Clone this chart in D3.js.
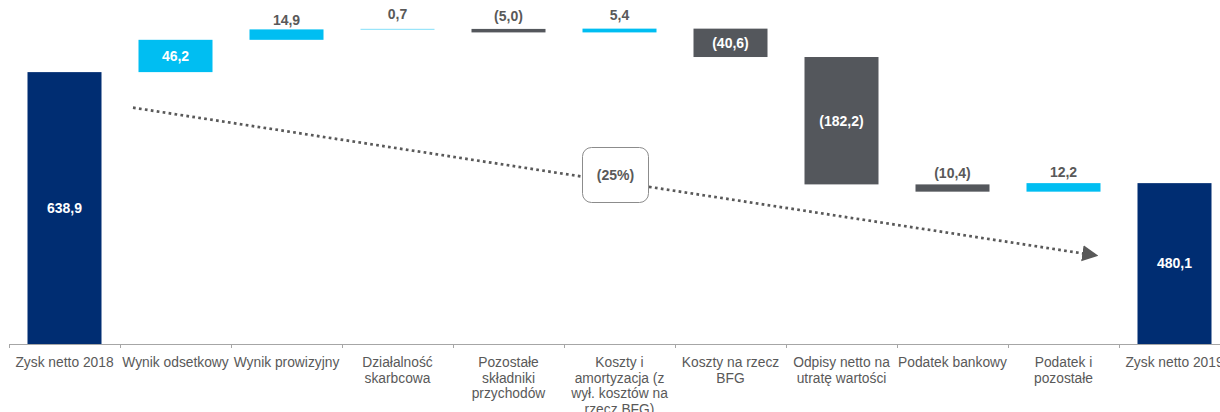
<!DOCTYPE html>
<html>
<head>
<meta charset="utf-8">
<script src="https://cdn.jsdelivr.net/npm/d3@7"></script>
<style>
  html, body { margin: 0; padding: 0; background: #fff; }
  svg { display: block; font-family: "Liberation Sans", Arial, sans-serif; }
</style>
</head>
<body>
<svg id="chart" width="1220" height="412"></svg>
<script>
// Category labels, already broken into lines
const categories = [
  ["Zysk netto 2018"],
  ["Wynik odsetkowy"],
  ["Wynik prowizyjny"],
  ["Działalność", "skarbcowa"],
  ["Pozostałe", "składniki", "przychodów"],
  ["Koszty i", "amortyzacja (z", "wył. kosztów na", "rzecz BFG)"],
  ["Koszty na rzecz", "BFG"],
  ["Odpisy netto na", "utratę wartości"],
  ["Podatek bankowy"],
  ["Podatek i", "pozostałe"],
  ["Zysk netto 2019"]
];
// Bar values (mln zł): totals at both ends, changes in between
const values = [638.9, 46.2, 14.9, 0.7, -5.0, 5.4, -40.6, -182.2, -10.4, 12.2, 480.1];
const kinds  = ["total", "delta", "delta", "delta", "delta", "delta", "delta", "delta", "delta", "delta", "total"];
const trendLabel = "(25%)";

const colors = { total: "#002D72", up: "#00BEF2", down: "#54575C" };
const textGray = "#595959";

const svg = d3.select("#chart");
const keys = categories.map((c, i) => i);

const x = d3.scaleBand()
  .domain(keys)
  .range([9, 9 + 111 * categories.length])
  .paddingInner(1 / 3)
  .paddingOuter(1 / 6);

const y = d3.scaleLinear().domain([250, 700]).range([344, 29.4]);

// Running totals for the floating bars
let running = 0;
const bars = values.map((v, i) => {
  let lo, hi;
  if (kinds[i] === "total") { lo = y.domain()[0]; hi = v; running = v; }
  else { const start = running; running += v; lo = Math.min(start, running); hi = Math.max(start, running); }
  const fill = kinds[i] === "total" ? colors.total : (v >= 0 ? colors.up : colors.down);
  return { i, v, lo, hi, fill, kind: kinds[i] };
});

const fmt = v => {
  const s = d3.format(".1f")(Math.abs(v)).replace(".", ",");
  return v < 0 ? "(" + s + ")" : s;
};

// Bars
svg.append("g").selectAll("rect").data(bars).join("rect")
  .attr("x", d => x(d.i))
  .attr("width", x.bandwidth())
  .attr("y", d => y(d.hi))
  .attr("height", d => y(d.lo) - y(d.hi))
  .attr("fill", d => d.fill);

// Value labels: inside tall bars, above short ones
svg.append("g").selectAll("text").data(bars).join("text")
  .attr("x", d => x(d.i) + x.bandwidth() / 2)
  .attr("y", d => {
    const mid = (y(d.lo) + y(d.hi)) / 2;
    const h = y(d.lo) - y(d.hi);
    return h > 20 ? mid : mid - 15;
  })
  .attr("dy", "0.35em")
  .attr("text-anchor", "middle")
  .attr("font-size", 14)
  .attr("font-weight", "bold")
  .attr("fill", d => (y(d.lo) - y(d.hi)) > 20 ? "#fff" : textGray)
  .text(d => fmt(d.v));

// Category axis
const axisG = svg.append("g");
const step = x.step();
const pad = step * x.paddingInner() / 2;
axisG.append("line")
  .attr("x1", x(0) - pad).attr("x2", x(keys.length - 1) + x.bandwidth() + pad)
  .attr("y1", 344.5).attr("y2", 344.5)
  .attr("stroke", "#A6A6A6").attr("stroke-width", 1);
axisG.selectAll("line.tick").data(keys).join("line")
  .attr("class", "tick")
  .attr("x1", d => Math.round(x(d) - pad) + 0.5)
  .attr("x2", d => Math.round(x(d) - pad) + 0.5)
  .attr("y1", 344).attr("y2", 348)
  .attr("stroke", "#A6A6A6");

const labels = axisG.selectAll("text").data(keys).join("text")
  .attr("text-anchor", "middle")
  .attr("font-size", 13.8)
  .attr("fill", textGray);
labels.each(function (d) {
  d3.select(this).selectAll("tspan").data(categories[d]).join("tspan")
    .attr("x", x(d) + x.bandwidth() / 2)
    .attr("y", (t, j) => 367 + j * 15.5)
    .text(t => t);
});

// Dotted trend arrow with percentage badge
const ax1 = x(1) - pad + 13, ay1 = y(588);
const ax2 = x(10) - pad - 20, ay2 = y(376);
const defs = svg.append("defs");
defs.append("marker")
  .attr("id", "arrowHead")
  .attr("viewBox", "0 0 10 10")
  .attr("refX", 1).attr("refY", 5)
  .attr("markerWidth", 6).attr("markerHeight", 6.2)
  .attr("markerUnits", "strokeWidth")
  .attr("orient", "auto")
  .append("path").attr("d", "M0,0 L10,5 L0,10 Z").attr("fill", "#595959");

svg.append("line")
  .attr("x1", ax1).attr("y1", ay1)
  .attr("x2", ax2 - 15).attr("y2", ay2 - 15 * (ay2 - ay1) / (ax2 - ax1))
  .attr("stroke", "#595959")
  .attr("stroke-width", 2.7)
  .attr("stroke-dasharray", "2.7,3.3")
  .attr("marker-end", "url(#arrowHead)");

const bx = (ax1 + ax2) / 2 - 0.5, by = 175;
const badge = svg.append("g").attr("transform", `translate(${bx},${by})`);
badge.append("rect")
  .attr("x", -33).attr("y", -27.5).attr("width", 66).attr("height", 55)
  .attr("rx", 9).attr("ry", 9)
  .attr("fill", "#fff").attr("stroke", "#8C8C8C").attr("stroke-width", 1);
badge.append("text")
  .attr("text-anchor", "middle").attr("dy", "0.35em")
  .attr("font-size", 14).attr("font-weight", "bold")
  .attr("fill", textGray)
  .text(trendLabel);
</script>
</body>
</html>
